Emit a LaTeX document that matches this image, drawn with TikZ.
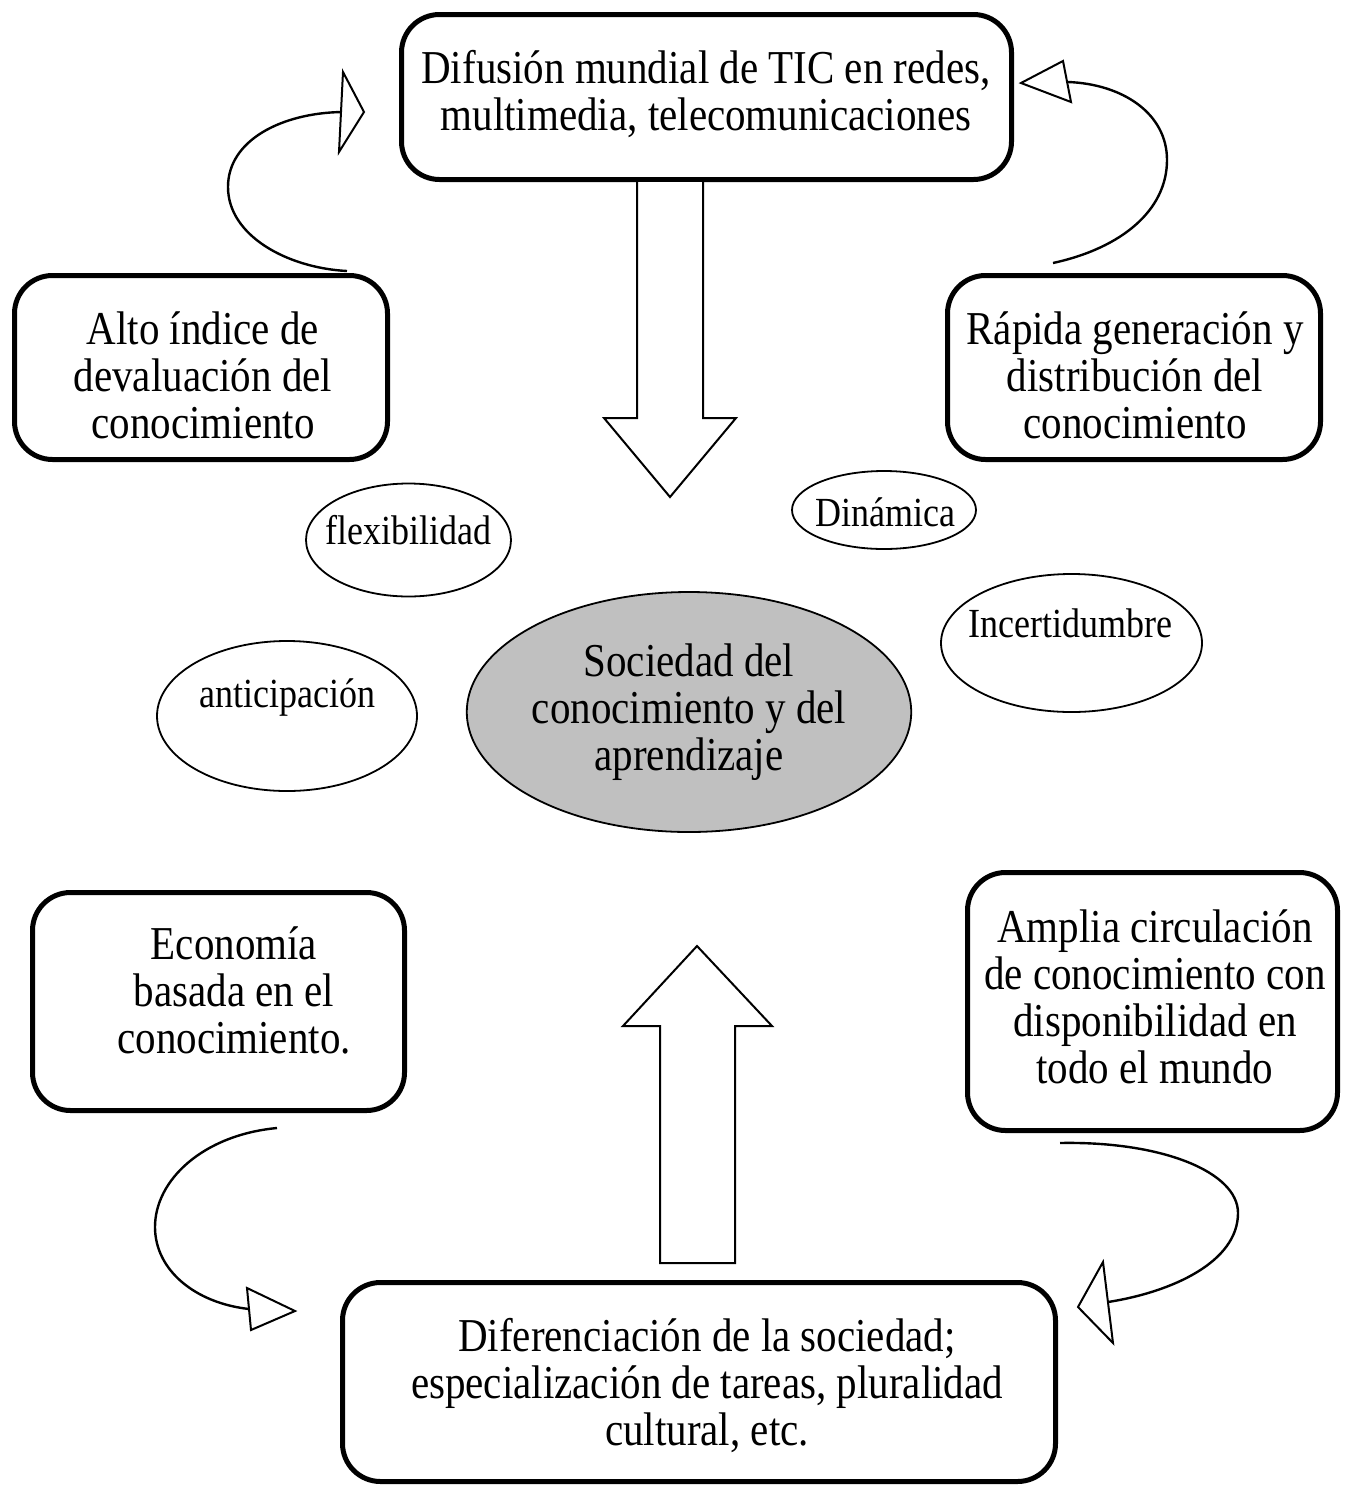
\documentclass[tikz,border=0pt]{standalone}
\usepackage{graphicx}
\usepackage{fontspec}
\setmainfont{Liberation Serif}
\usetikzlibrary{shapes.geometric}
\definecolor{cgray}{RGB}{192,192,192}
\newcommand\bigtxt{\fontsize{41}{47}\selectfont\lineskiplimit=-100pt\lineskip=0pt}
\newcommand\smtxt{\fontsize{36}{41}\selectfont}
\newcommand\vs[1]{\scalebox{1}[1.15]{#1}}
\begin{document}
\begin{tikzpicture}[x=1pt,y=-1pt,
  box/.style={draw, line width=5pt, rounded corners=38pt, inner sep=0pt},
  txt/.style={font=\bigtxt, align=center, inner sep=0pt},
  oval/.style={draw, ellipse, line width=1.8pt, inner sep=0pt},
  stxt/.style={font=\smtxt, inner sep=0pt},
  curve/.style={line width=2.4pt},
  tiptri/.style={draw, fill=white, line width=2pt, line join=miter},
  block/.style={draw, fill=white, line width=2pt, line join=miter}]
\useasboundingbox (0,0) rectangle (1347,1486);

% boxes
\node[box, minimum width=610pt, minimum height=165pt] (top) at (706.5,97) {};
\node[txt] (topT) at (706,94) {\vs{Difusión mundial de TIC en redes,}\\\vs{multimedia, telecomunicaciones}};

\node[box, minimum width=373pt, minimum height=184pt] (left) at (201,367.5) {};
\node[txt] (leftT) at (203,375) {\vs{Alto índice de}\\\vs{devaluación del}\\\vs{conocimiento}};

\node[box, minimum width=373pt, minimum height=184pt] (right) at (1134,367.5) {};
\node[txt] (rightT) at (1135,375) {\vs{Rápida generación y}\\\vs{distribución del}\\\vs{conocimiento}};

\node[box, minimum width=372pt, minimum height=218pt] (econ) at (218.5,1001.5) {};
\node[txt] (econT) at (234,990) {\vs{Economía}\\\vs{basada en el}\\\vs{conocimiento.}};

\node[box, minimum width=370pt, minimum height=258pt] (amplia) at (1152.5,1001.5) {};
\node[txt] (ampliaT) at (1155,997) {\vs{Amplia circulación}\\\vs{de conocimiento con}\\\vs{disponibilidad en}\\\vs{todo el mundo}};

\node[box, minimum width=713pt, minimum height=199pt] (bottom) at (699,1382) {};
\node[txt] (bottomT) at (707,1386) {\vs{Diferenciación de la sociedad;}\\\vs{especialización de tareas, pluralidad}\\\vs{cultural, etc.}};

% ellipses
\node[oval, fill=cgray, minimum width=430pt, minimum height=240pt, font=\bigtxt, align=center] (center) at (689,712)
  {\vs{Sociedad del}\\\vs{conocimiento y del}\\\vs{aprendizaje}};

\node[oval, minimum width=205pt, minimum height=113pt] (flex) at (408.5,540) {};
\node[stxt] (flexT) at (408,530) {\vs{flexibilidad}};

\node[oval, minimum width=184pt, minimum height=78pt] (din) at (884,510) {};
\node[stxt] (dinT) at (885,512) {\vs{Dinámica}};

\node[oval, minimum width=261pt, minimum height=138pt] (inc) at (1071.5,643) {};
\node[stxt] (incT) at (1070,623) {\vs{Incertidumbre}};

\node[oval, minimum width=260pt, minimum height=150pt] (ant) at (287,716) {};
\node[stxt] (antT) at (287,698) {\vs{anticipación}};

% block arrows
\draw[block] ([xshift=-69.5pt]top.south) -- (637,418) -- (604,418) -- (670,497) -- (736,418) -- (703,418) -- ([xshift=-3.5pt]top.south);
\draw[block] (660,1263) -- (660,1026) -- (623,1026) -- (697,946) -- (772,1026) -- (735,1026) -- (735,1263) -- cycle;

% curved arrows
\coordinate (a1s) at (347,271);
\coordinate (a1e) at (342,112);
\draw[curve] (a1s) .. controls (288,268) and (228,236) .. (228,187) .. controls (228,140) and (282,113) .. (a1e);
\draw[tiptri] (343,72) -- (364,112) -- (339,152) -- cycle;

\coordinate (a2s) at (1053,263);
\coordinate (a2e) at (1068,82);
\draw[curve] (a2s) .. controls (1122,248) and (1167,210) .. (1167,160) .. controls (1167,113) and (1122,84) .. (a2e);
\draw[tiptri] (1063,61) -- (1021,83) -- (1071,102) -- cycle;

\coordinate (a3s) at (277,1128);
\coordinate (a3e) at (249,1309);
\draw[curve] (a3s) .. controls (203,1135) and (155,1180) .. (155,1227) .. controls (155,1270) and (195,1303) .. (a3e);
\draw[tiptri] (247,1288) -- (295,1311) -- (251,1330) -- cycle;

\coordinate (a4s) at (1060,1143);
\coordinate (a4e) at (1108,1302);
\draw[curve] (a4s) .. controls (1162,1141) and (1238,1172) .. (1238,1213) .. controls (1238,1262) and (1172,1292) .. (a4e);
\draw[tiptri] (1103,1262) -- (1078,1307) -- (1113,1343) -- cycle;
\end{tikzpicture}
\end{document}
